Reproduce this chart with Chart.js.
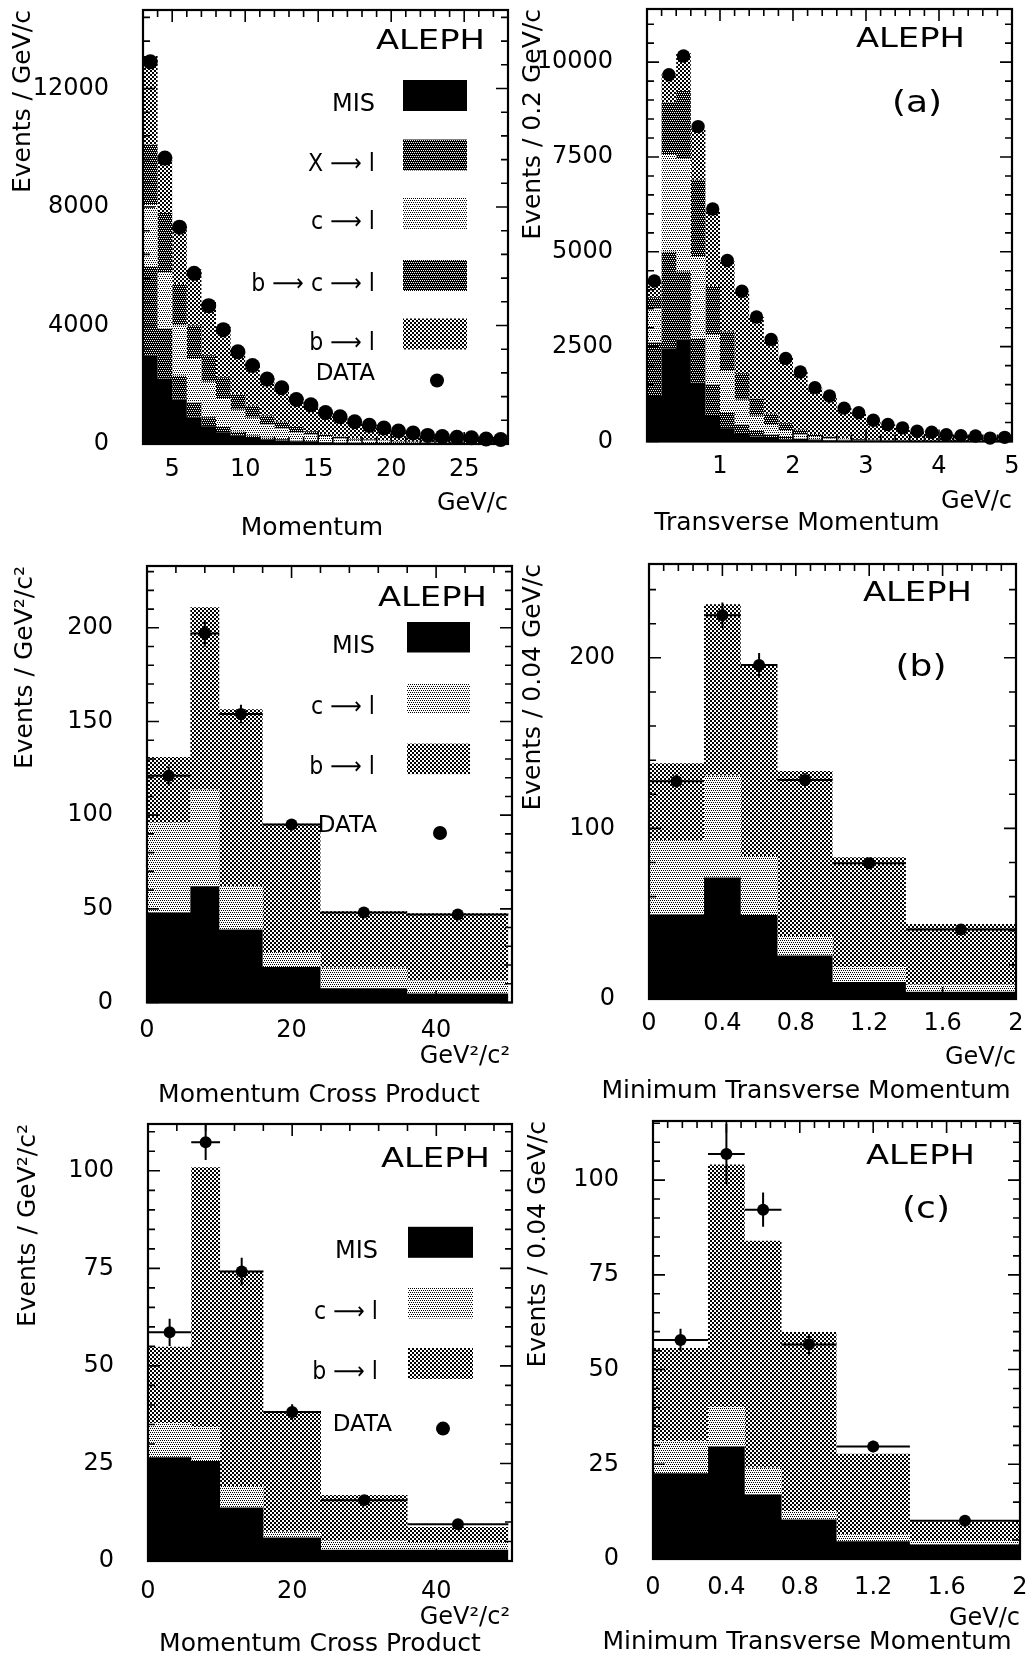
<!DOCTYPE html>
<html>
<head>
<meta charset="utf-8">
<title>ALEPH lepton spectra</title>
<script src="https://cdn.jsdelivr.net/npm/chart.js@4.4.1/dist/chart.umd.min.js"></script>
<style>
  body { margin: 0; background: #fff; width: 1027px; height: 1660px; position: relative; overflow: hidden; }
  canvas { position: absolute; }
</style>
</head>
<body>
<canvas id="p1" width="518" height="540" style="left:0;top:0"></canvas>
<canvas id="p2" width="509" height="540" style="left:518px;top:0"></canvas>
<canvas id="p3" width="518" height="570" style="left:0;top:540px"></canvas>
<canvas id="p4" width="509" height="570" style="left:518px;top:540px"></canvas>
<canvas id="p5" width="518" height="560" style="left:0;top:1100px"></canvas>
<canvas id="p6" width="509" height="560" style="left:518px;top:1100px"></canvas>
<script>
// ---- Momentum (top left) ----
const p1Edges = [3, 4, 5, 6, 7, 8, 9, 10, 11, 12, 13, 14, 15, 16, 17, 18, 19, 20, 21, 22, 23, 24, 25, 26, 27, 28];
const p1Mis = [3000, 2200, 1500, 900, 600, 400, 280, 200, 150, 120, 90, 70, 55, 45, 35, 28, 22, 18, 15, 12, 10, 8, 7, 6, 5];
const p1Xl = [3000, 1700, 800, 500, 300, 200, 130, 90, 60, 40, 30, 20, 15, 10, 8, 6, 5, 4, 3, 2, 2, 1, 1, 1, 1];
const p1Cl = [2100, 1900, 1700, 1500, 1200, 950, 750, 600, 450, 360, 280, 220, 170, 130, 100, 80, 65, 50, 40, 30, 25, 20, 16, 13, 10];
const p1Bcl = [2000, 2000, 1400, 1100, 900, 700, 520, 400, 300, 230, 170, 120, 90, 70, 50, 40, 30, 22, 18, 14, 11, 9, 7, 6, 5];
const p1Bl = [3000, 1900, 2000, 1900, 1800, 1700, 1500, 1400, 1250, 1150, 970, 900, 750, 660, 560, 480, 420, 350, 300, 240, 205, 190, 180, 150, 130];
const p1Data = [12900, 9650, 7320, 5760, 4670, 3860, 3110, 2650, 2190, 1900, 1500, 1325, 1060, 920, 750, 630, 540, 440, 370, 290, 250, 230, 210, 170, 150];
const p1XTicks = [5, 10, 15, 20, 25];
const p1YTicks = [0, 4000, 8000, 12000];

// ---- Transverse momentum (top right) ----
const p2Edges = [0, 0.2, 0.4, 0.6, 0.8, 1.0, 1.2, 1.4, 1.6, 1.8, 2.0, 2.2, 2.4, 2.6, 2.8, 3.0, 3.2, 3.4, 3.6, 3.8, 4.0, 4.2, 4.4, 4.6, 4.8, 5.0];
const p2Mis = [1200, 2450, 2690, 1550, 700, 350, 200, 130, 90, 60, 40, 30, 20, 15, 12, 9, 7, 5, 4, 3, 3, 2, 2, 1, 1];
const p2Xl = [1400, 2550, 1790, 1170, 800, 400, 250, 150, 90, 60, 40, 25, 15, 10, 7, 5, 4, 3, 2, 2, 1, 1, 1, 1, 1];
const p2Cl = [900, 2580, 2960, 2170, 1300, 1100, 650, 400, 250, 160, 100, 60, 40, 25, 18, 12, 9, 6, 4, 3, 2, 2, 1, 1, 1];
const p2Bcl = [300, 1360, 1800, 2010, 1300, 1050, 700, 450, 300, 200, 130, 80, 50, 35, 25, 18, 12, 8, 6, 4, 3, 2, 2, 1, 1];
const p2Bl = [450, 760, 1000, 1350, 2000, 1850, 2150, 2150, 1950, 1720, 1520, 1225, 1075, 795, 698, 516, 418, 338, 254, 233, 171, 148, 139, 86, 106];
const p2Data = [4230, 9665, 10160, 8300, 6130, 4770, 3960, 3280, 2690, 2190, 1830, 1420, 1200, 880, 760, 560, 450, 360, 270, 245, 180, 155, 145, 90, 110];
const p2XTicks = [1, 2, 3, 4, 5];
const p2YTicks = [0, 2500, 5000, 7500, 10000];

// ---- (b) momentum cross product / minimum pT ----
const crossEdges = [0, 6, 10, 16, 24, 36, 50];
const minPtEdges = [0, 0.3, 0.5, 0.7, 1.0, 1.4, 2.0];
const crossXTicks = [0, 20, 40];
const minPtXTicks = [0, 0.4, 0.8, 1.2, 1.6, 2];

const p3Mis = [48, 62, 39, 19, 7.6, 4.8];
const p3Cl = [48, 51.5, 23, 8, 11, 7];
const p3Bl = [35, 97.5, 94.5, 68.4, 30.1, 35.9];
const p3Data = [121, 197, 154, 95, 48, 47];
const p3Err = [5, 7, 5, 3, 2, 1.5];
const p3YTicks = [0, 50, 100, 150, 200];

const p4Mis = [49.6, 71.2, 49.2, 25.5, 10, 4.2];
const p4Cl = [43.6, 59.7, 34.6, 11.5, 8.8, 4.2];
const p4Bl = [45, 100.5, 112, 96.6, 64.3, 35.6];
const p4Data = [127.7, 225, 195.8, 128.4, 79.6, 40.8];
const p4Err = [4, 7.5, 7, 4, 3, 2];
const p4YTicks = [0, 100, 200];

// ---- (c) ----
const p5Mis = [26.6, 25.6, 13.7, 6.0, 2.9, 2.9];
const p5Cl = [8.7, 8.7, 5.5, 1.5, 2.3, 2.0];
const p5Bl = [19.6, 66.6, 55.2, 30.7, 11.7, 3.8];
const p5Data = [58.6, 107.3, 74.2, 38.2, 15.6, 9.4];
const p5Err = [3.5, 4.5, 3.5, 2, 1.2, 0.8];
const p5YTicks = [0, 25, 50, 75, 100];

const p6Mis = [22.6, 29.7, 17.0, 10.4, 4.7, 3.8];
const p6Cl = [8.5, 10.4, 7.1, 2.3, 1.8, 1.2];
const p6Bl = [24.6, 64.0, 59.9, 47.2, 21.3, 4.9];
const p6Data = [57.8, 106.9, 92.2, 56.6, 29.7, 10.1];
const p6Err = [3, 8, 4.5, 2.5, 1.5, 1];
const p6YTicks = [0, 25, 50, 75, 100];

const FONT = '"DejaVu Sans", sans-serif';
Chart.defaults.font.family = FONT;
Chart.defaults.color = '#000';

// halftone tiles, the scanned figure uses dot screens
function makePattern(n, ink, bg, cells) {
    const c = document.createElement('canvas');
    c.width = c.height = n;
    const g = c.getContext('2d');
    g.fillStyle = bg;
    g.fillRect(0, 0, n, n);
    g.fillStyle = ink;
    cells.forEach(([x, y]) => g.fillRect(x, y, 1, 1));
    return g.createPattern(c, 'repeat');
}
const diamond = [[0, 0], [2, 0], [1, 2], [3, 2]];
const blocks = [[0, 0], [1, 0], [0, 1], [1, 1], [2, 2], [3, 2], [2, 3], [3, 3]];
const fills = {
    mis: '#000',
    dark: makePattern(4, '#fff', '#000', diamond),
    light: makePattern(4, '#000', '#fff', diamond),
    medium: makePattern(4, '#000', '#fff', blocks)
};

function histogramPoints(edges, values) {
    const pts = values.map((v, i) => ({ x: edges[i], y: v }));
    pts.push({ x: edges[edges.length - 1], y: values[values.length - 1] });
    return pts;
}

function binCenters(edges) {
    return edges.slice(1).map((e, i) => (edges[i] + e) / 2);
}

function stepRange(min, max, step) {
    const out = [];
    const k0 = Math.ceil(min / step - 1e-6), k1 = Math.floor(max / step + 1e-6);
    for (let k = k0; k <= k1; k++) out.push(k * step);
    return out;
}

const framePlugin = {
    id: 'frame',
    afterDraw(chart, args, opts) {
        const { ctx, chartArea: a, scales: { x, y } } = chart;
        const isMajor = (v, list, step) => list.some(m => Math.abs(m - v) < step * 1e-3);
        ctx.save();
        ctx.strokeStyle = '#000';
        ctx.lineWidth = 1.6;
        ctx.beginPath();
        stepRange(x.min, x.max, opts.xMinor).forEach(v => {
            const px = x.getPixelForValue(v);
            const len = isMajor(v, opts.xMajor, opts.xMinor) ? 12 : 7;
            ctx.moveTo(px, a.bottom); ctx.lineTo(px, a.bottom - len);
            ctx.moveTo(px, a.top); ctx.lineTo(px, a.top + len);
        });
        stepRange(y.min, y.max, opts.yMinor).forEach(v => {
            const py = y.getPixelForValue(v);
            const len = isMajor(v, opts.yMajor, opts.yMinor) ? 12 : 7;
            ctx.moveTo(a.left, py); ctx.lineTo(a.left + len, py);
            ctx.moveTo(a.right, py); ctx.lineTo(a.right - len, py);
        });
        ctx.stroke();
        ctx.lineWidth = 2.2;
        ctx.strokeRect(a.left, a.top, a.right - a.left, a.bottom - a.top);
        ctx.restore();
    }
};

const errorBarPlugin = {
    id: 'errbars',
    afterDatasetsDraw(chart) {
        const ds = chart.data.datasets.find(d => d.errors);
        if (!ds) return;
        const { ctx, scales: { x, y } } = chart;
        ctx.save();
        ctx.strokeStyle = '#000';
        ctx.lineWidth = 2;
        ctx.beginPath();
        ds.data.forEach((p, i) => {
            const px = x.getPixelForValue(p.x), py = y.getPixelForValue(p.y);
            ctx.moveTo(px, y.getPixelForValue(p.y - ds.errors[i]));
            ctx.lineTo(px, y.getPixelForValue(p.y + ds.errors[i]));
            ctx.moveTo(x.getPixelForValue(ds.binEdges[i]), py);
            ctx.lineTo(x.getPixelForValue(ds.binEdges[i + 1]), py);
        });
        ctx.stroke();
        ctx.restore();
    }
};

function drawText(ctx, t) {
    ctx.save();
    ctx.translate(t.x, t.y);
    ctx.scale(t.sx || 1, 1);
    ctx.font = `${t.size}px ${FONT}`;
    ctx.fillStyle = '#000';
    ctx.textAlign = t.align || 'left';
    ctx.textBaseline = 'middle';
    ctx.fillText(t.text, 0, 0);
    ctx.restore();
}

const notesPlugin = {
    id: 'notes',
    afterDraw(chart, args, opts) {
        const ctx = chart.ctx;
        (opts.texts || []).forEach(t => drawText(ctx, t));
        const lg = opts.legend;
        if (!lg) return;
        const layers = chart.data.datasets.filter(d => d.stack === 'mc');
        layers.forEach((d, i) => {
            const top = lg.tops[i];
            ctx.fillStyle = d.backgroundColor;
            ctx.fillRect(lg.swatchX, top, lg.swatchW, lg.swatchH);
            // the arrows in the scan are a bit narrower than the long arrow glyph
            const sx = d.label.includes('⟶') ? 0.92 : 1;
            drawText(ctx, { text: d.label, x: lg.labelX, y: top + lg.swatchH * 0.8, size: 24, align: 'right', sx: sx });
        });
        drawText(ctx, { text: 'DATA', x: lg.dataX, y: lg.dataY, size: 23, align: 'right' });
        ctx.beginPath();
        ctx.arc(lg.dotX, lg.dotY, 7, 0, Math.PI * 2);
        ctx.fillStyle = '#000';
        ctx.fill();
    }
};

function makePanel(id, cfg) {
    const canvas = document.getElementById(id);
    const W = canvas.width, H = canvas.height, a = cfg.area;
    const datasets = cfg.layers.map(([label, values, fill], i) => ({
        label: label,
        data: histogramPoints(cfg.edges, values),
        backgroundColor: fill,
        borderColor: 'transparent',
        borderWidth: 0,
        pointRadius: 0,
        pointHoverRadius: 0,
        stepped: 'before',
        fill: i === 0 ? 'origin' : '-1',
        stack: 'mc'
    }));
    const centers = binCenters(cfg.edges);
    datasets.push({
        label: 'DATA',
        data: centers.map((x, i) => ({ x: x, y: cfg.data[i] })),
        showLine: false,
        fill: false,
        pointRadius: cfg.dotRadius,
        pointHoverRadius: cfg.dotRadius,
        pointBackgroundColor: '#000',
        pointBorderWidth: 0,
        stack: 'data',
        order: -1,
        clip: false,
        errors: cfg.errors,
        binEdges: cfg.edges
    });
    const tickFont = { family: FONT, size: 24 };
    return new Chart(canvas, {
        type: 'line',
        data: { datasets: datasets },
        options: {
            responsive: false,
            devicePixelRatio: 1,
            animation: false,
            events: [],
            layout: { padding: { left: 0, top: a.t, right: W - a.r, bottom: 0 } },
            scales: {
                x: {
                    type: 'linear',
                    min: cfg.xMin,
                    max: cfg.xMax,
                    grid: { display: false },
                    border: { display: false },
                    afterBuildTicks: s => { s.ticks = cfg.xTicks.map(v => ({ value: v })); },
                    afterFit: s => { s.height = H - a.b; s.paddingLeft = 0; s.paddingRight = 0; },
                    ticks: { font: tickFont, color: '#000', padding: cfg.xTickPad, maxRotation: 0, autoSkip: false, callback: v => String(v) }
                },
                y: {
                    type: 'linear',
                    stacked: true,
                    min: 0,
                    max: cfg.yMax,
                    grid: { display: false },
                    border: { display: false },
                    afterBuildTicks: s => { s.ticks = cfg.yTicks.map(v => ({ value: v })); },
                    afterFit: s => { s.width = a.l; s.paddingTop = 0; s.paddingBottom = 0; },
                    ticks: { font: tickFont, color: '#000', padding: 26, callback: v => String(v) },
                    title: {
                        display: true,
                        text: cfg.yTitle,
                        align: 'end',
                        color: '#000',
                        font: { family: FONT, size: 25 },
                        padding: { top: cfg.yTitlePad, bottom: 0 }
                    }
                }
            },
            plugins: {
                legend: { display: false },
                tooltip: { enabled: false },
                frame: { xMinor: cfg.xMinor, yMinor: cfg.yMinor, xMajor: cfg.xTicks, yMajor: cfg.yTicks },
                notes: { texts: cfg.texts, legend: cfg.legend }
            }
        },
        plugins: [framePlugin, errorBarPlugin, notesPlugin]
    });
}

makePanel('p1', {
    area: { l: 143, r: 508, t: 10, b: 444 },
    edges: p1Edges,
    layers: [['MIS', p1Mis, fills.mis], ['X ⟶ l', p1Xl, fills.dark], ['c ⟶ l', p1Cl, fills.light],
             ['b ⟶ c ⟶ l', p1Bcl, fills.dark], ['b ⟶ l', p1Bl, fills.medium]],
    data: p1Data, dotRadius: 7.5,
    xMin: 3, xMax: 28, yMax: 14650, xTicks: p1XTicks, yTicks: p1YTicks, xMinor: 1, yMinor: 800, xTickPad: 3,
    yTitle: 'Events / GeV/c', yTitlePad: 8,
    texts: [
        { text: 'ALEPH', x: 485, y: 42, size: 26, align: 'right', sx: 1.3 },
        { text: 'GeV/c', x: 508, y: 504, size: 24, align: 'right' },
        { text: 'Momentum', x: 312, y: 528, size: 25, align: 'center' }
    ],
    legend: { labelX: 375, swatchX: 403, swatchW: 64, swatchH: 31, tops: [80, 139.5, 198, 260, 318.5],
              dataX: 375, dataY: 374, dotX: 437, dotY: 380.5 }
});

makePanel('p2', {
    area: { l: 129, r: 494, t: 9, b: 441.5 },
    edges: p2Edges,
    layers: [['MIS', p2Mis, fills.mis], ['X ⟶ l', p2Xl, fills.dark], ['c ⟶ l', p2Cl, fills.light],
             ['b ⟶ c ⟶ l', p2Bcl, fills.dark], ['b ⟶ l', p2Bl, fills.medium]],
    data: p2Data, dotRadius: 6.7,
    xMin: 0, xMax: 5, yMax: 11400, xTicks: p2XTicks, yTicks: p2YTicks, xMinor: 0.2, yMinor: 500, xTickPad: 3,
    yTitle: 'Events / 0.2 GeV/c', yTitlePad: 0,
    texts: [
        { text: 'ALEPH', x: 447, y: 40, size: 26, align: 'right', sx: 1.3 },
        { text: '(a)', x: 399, y: 104, size: 30, align: 'center', sx: 1.2 },
        { text: 'GeV/c', x: 494, y: 502, size: 24, align: 'right' },
        { text: 'Transverse Momentum', x: 279, y: 523, size: 25, align: 'center' }
    ]
});

makePanel('p3', {
    area: { l: 147, r: 512, t: 26, b: 462.5 },
    edges: crossEdges,
    layers: [['MIS', p3Mis, fills.mis], ['c ⟶ l', p3Cl, fills.light], ['b ⟶ l', p3Bl, fills.medium]],
    data: p3Data, errors: p3Err, dotRadius: 6,
    xMin: 0, xMax: 50.5, yMax: 233, xTicks: crossXTicks, yTicks: p3YTicks, xMinor: 4, yMinor: 10, xTickPad: 6,
    yTitle: 'Events / GeV²/c²', yTitlePad: 10,
    texts: [
        { text: 'ALEPH', x: 487, y: 59, size: 26, align: 'right', sx: 1.3 },
        { text: 'GeV²/c²', x: 510, y: 517, size: 24, align: 'right' },
        { text: 'Momentum Cross Product', x: 319, y: 555, size: 25, align: 'center' }
    ],
    legend: { labelX: 375, swatchX: 407, swatchW: 63, swatchH: 30.5, tops: [82, 143, 203.6],
              dataX: 377, dataY: 286, dotX: 440, dotY: 293 }
});

makePanel('p4', {
    area: { l: 131, r: 498, t: 24, b: 459 },
    edges: minPtEdges,
    layers: [['MIS', p4Mis, fills.mis], ['c ⟶ l', p4Cl, fills.light], ['b ⟶ l', p4Bl, fills.medium]],
    data: p4Data, errors: p4Err, dotRadius: 6,
    xMin: 0, xMax: 2, yMax: 255, xTicks: minPtXTicks, yTicks: p4YTicks, xMinor: 0.08, yMinor: 20, xTickPad: 2,
    yTitle: 'Events / 0.04 GeV/c', yTitlePad: 0,
    texts: [
        { text: 'ALEPH', x: 454, y: 54, size: 26, align: 'right', sx: 1.3 },
        { text: '(b)', x: 403, y: 128, size: 30, align: 'center', sx: 1.2 },
        { text: 'GeV/c', x: 498, y: 518, size: 24, align: 'right' },
        { text: 'Minimum Transverse Momentum', x: 288, y: 551, size: 25, align: 'center' }
    ]
});

makePanel('p5', {
    area: { l: 148, r: 515, t: 24, b: 461 },
    edges: crossEdges,
    layers: [['MIS', p5Mis, fills.mis], ['c ⟶ l', p5Cl, fills.light], ['b ⟶ l', p5Bl, fills.medium]],
    data: p5Data, errors: p5Err, dotRadius: 6,
    xMin: 0, xMax: 50.5, yMax: 112, xTicks: crossXTicks, yTicks: p5YTicks, xMinor: 4, yMinor: 5, xTickPad: 8,
    yTitle: 'Events / GeV²/c²', yTitlePad: 13,
    texts: [
        { text: 'ALEPH', x: 490, y: 60, size: 26, align: 'right', sx: 1.3 },
        { text: 'GeV²/c²', x: 510, y: 518, size: 24, align: 'right' },
        { text: 'Momentum Cross Product', x: 320, y: 544, size: 25, align: 'center' }
    ],
    legend: { labelX: 378, swatchX: 408, swatchW: 65, swatchH: 31, tops: [126.8, 187.5, 248],
              dataX: 392, dataY: 325, dotX: 443, dotY: 328.6 }
});

makePanel('p6', {
    area: { l: 135, r: 502, t: 21, b: 459 },
    edges: minPtEdges,
    layers: [['MIS', p6Mis, fills.mis], ['c ⟶ l', p6Cl, fills.light], ['b ⟶ l', p6Bl, fills.medium]],
    data: p6Data, errors: p6Err, dotRadius: 6,
    xMin: 0, xMax: 2, yMax: 115.6, xTicks: minPtXTicks, yTicks: p6YTicks, xMinor: 0.08, yMinor: 5, xTickPad: 6,
    yTitle: 'Events / 0.04 GeV/c', yTitlePad: 5,
    texts: [
        { text: 'ALEPH', x: 457, y: 57, size: 26, align: 'right', sx: 1.3 },
        { text: '(c)', x: 408, y: 110, size: 30, align: 'center', sx: 1.2 },
        { text: 'GeV/c', x: 502, y: 519, size: 24, align: 'right' },
        { text: 'Minimum Transverse Momentum', x: 289, y: 542, size: 25, align: 'center' }
    ]
});
</script>
</body>
</html>
